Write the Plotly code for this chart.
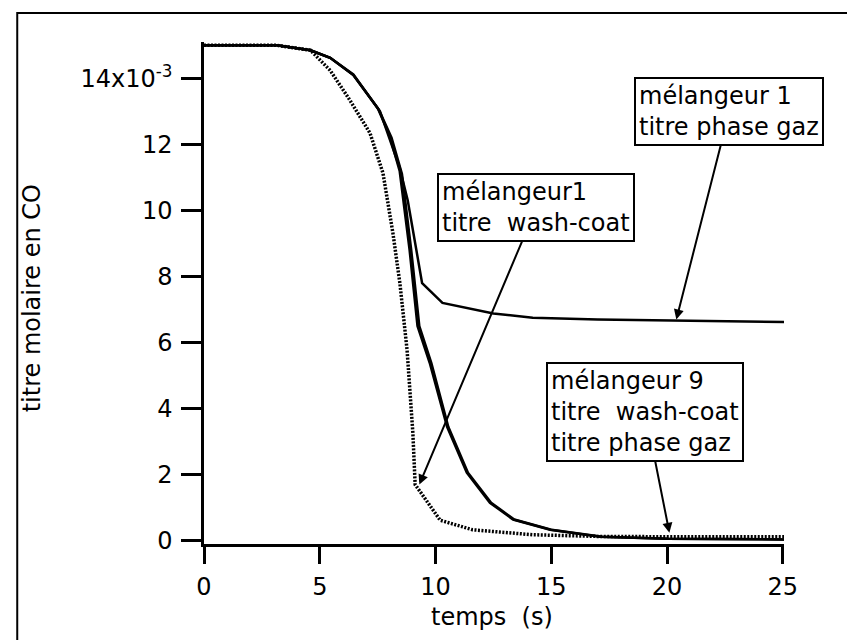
import plotly.graph_objects as go

# temps (s) et titre molaire en CO (x10^-3)
t_m1_gaz = [0, 3.15, 4.6, 5.45, 6.45, 7.6, 8.45, 8.8, 9.42, 10.3, 12.5, 14.2, 17.0, 20.4, 25.08]
y_m1_gaz = [15.0, 15.0, 14.85, 14.62, 14.12, 13.0, 11.3, 10.3, 7.8, 7.2, 6.88, 6.75, 6.7, 6.66, 6.62]

t_m1_wc = [0, 3.15, 4.6, 5.45, 6.3, 7.17, 7.73, 8.16, 8.46, 8.77, 9.02, 9.12, 10.2, 11.6, 14.2, 17.0, 20.0, 25.08]
y_m1_wc = [15.0, 15.0, 14.85, 14.24, 13.34, 12.34, 11.13, 9.31, 7.8, 5.78, 3.27, 1.7, 0.62, 0.33, 0.18, 0.13, 0.12, 0.12]

t_m9_wc = [0, 3.15, 4.6, 5.45, 6.45, 7.5, 8.0, 8.45, 8.88, 9.22, 9.75, 10.5, 11.35, 12.35, 13.35, 14.95, 17.1, 20.0, 25.08]
y_m9_wc = [15.0, 15.0, 14.85, 14.62, 14.1, 13.1, 12.3, 11.2, 8.8, 6.5, 5.38, 3.45, 2.06, 1.15, 0.64, 0.33, 0.12, 0.06, 0.04]

t_m9_gaz = [0, 3.15, 4.6, 5.45, 6.45, 7.55, 8.1, 8.55, 8.95, 9.3, 9.82, 10.55, 11.4, 12.4, 13.4, 15.0, 17.2, 20.0, 25.08]
y_m9_gaz = [15.0, 15.0, 14.85, 14.62, 14.1, 13.05, 12.2, 11.1, 8.8, 6.5, 5.38, 3.45, 2.06, 1.15, 0.64, 0.33, 0.12, 0.06, 0.04]

y_ticks = [0, 2, 4, 6, 8, 10, 12, 14]
y_ticktext = ['0', '2', '4', '6', '8', '10', '12', '14x10<sup>-3</sup>']
x_ticks = [0, 5, 10, 15, 20, 25]

FONT = 'DejaVu Sans'

fig = go.Figure()
fig.add_trace(go.Scatter(x=t_m1_gaz, y=y_m1_gaz, mode='lines',
                         line=dict(color='black', width=2.5)))
fig.add_trace(go.Scatter(x=t_m1_wc, y=y_m1_wc, mode='lines',
                         line=dict(color='black', width=3.5, dash='2px,1.5px')))
fig.add_trace(go.Scatter(x=t_m9_wc, y=y_m9_wc, mode='lines',
                         line=dict(color='black', width=2.5)))
fig.add_trace(go.Scatter(x=t_m9_gaz, y=y_m9_gaz, mode='lines',
                         line=dict(color='black', width=2.5)))

box = dict(showarrow=True, arrowhead=2, arrowsize=1, arrowwidth=2, arrowcolor='black',
           bordercolor='black', borderwidth=2, borderpad=3, bgcolor='white',
           align='left', font=dict(family=FONT, size=24, color='black'))

fig.add_annotation(x=20.4, y=6.7, ax=53, ay=-208,
                   text='mélangeur 1<br>titre phase gaz', **box)
fig.add_annotation(x=9.3, y=1.7, ax=117, ay=-277,
                   text='mélangeur1<br>titre\u00a0 wash-coat', **box)
fig.add_annotation(x=20.1, y=0.24, ax=-24, ay=-121,
                   text='mélangeur 9<br>titre\u00a0 wash-coat<br>titre phase gaz', **box)

# titres des axes
fig.add_annotation(xref='paper', yref='paper', x=-0.296, y=0.49, xanchor='center', yanchor='middle',
                   text='titre molaire en CO', textangle=-90, showarrow=False,
                   font=dict(family=FONT, size=24, color='black'))
fig.add_annotation(xref='paper', yref='paper', x=0.497, y=-0.145, xanchor='center', yanchor='middle',
                   text='temps\u00a0 (s)', showarrow=False,
                   font=dict(family=FONT, size=24, color='black'))

# cadre extérieur
fig.add_shape(type='rect', xref='paper', yref='paper', x0=-0.322, x1=1.117, y0=-0.23, y1=1.058,
              line=dict(color='black', width=2))

fig.update_layout(
    width=855, height=640,
    margin=dict(l=196, r=79, t=34, b=104, autoexpand=False),
    paper_bgcolor='white', plot_bgcolor='white',
    showlegend=False,
    font=dict(family=FONT, size=24, color='black'),
    xaxis=dict(range=[0, 25.05], tickvals=x_ticks, ticks='outside', ticklen=17, tickwidth=2.5,
               tickcolor='black', showline=True, linecolor='black', linewidth=2.5,
               showgrid=False, zeroline=False, ticklabelstandoff=2),
    yaxis=dict(range=[-0.1, 15.1], tickvals=y_ticks, ticktext=y_ticktext, ticks='outside',
               ticklen=20, tickwidth=2.5, tickcolor='black', showline=True, linecolor='black',
               linewidth=2.5, showgrid=False, zeroline=False, ticklabelstandoff=4),
)

fig.write_html("out.html")
